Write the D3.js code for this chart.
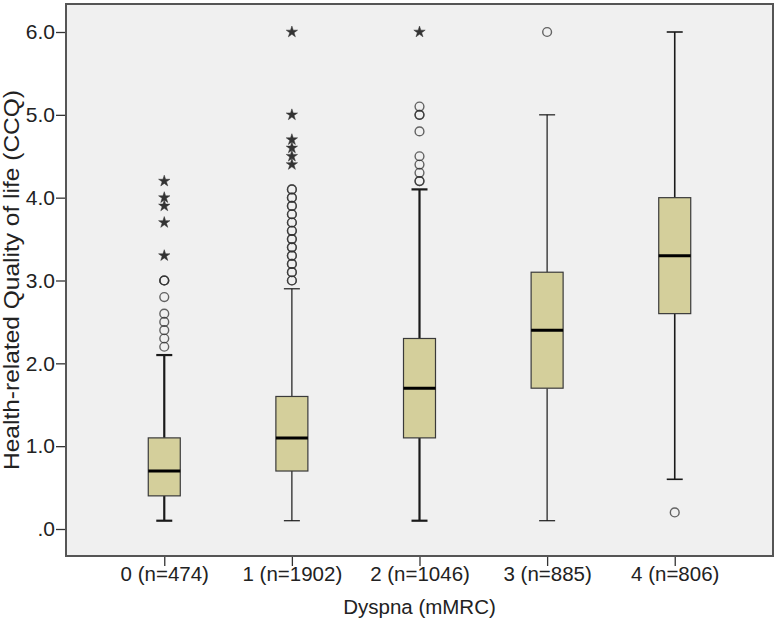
<!DOCTYPE html>
<html>
<head>
<meta charset="utf-8">
<script src="https://cdn.jsdelivr.net/npm/d3@7"></script>
<style>
  html, body { margin: 0; padding: 0; background: #ffffff; }
  svg { display: block; font-family: "Liberation Sans", Arial, Helvetica, sans-serif; }
</style>
</head>
<body>
<svg id="chart" width="778" height="623"></svg>
<script>
// ---- data ----
const categories = ["0 (n=474)", "1 (n=1902)", "2 (n=1046)", "3 (n=885)", "4 (n=806)"];
const whiskerLow  = [0.1, 0.1, 0.1, 0.1, 0.6];
const q1          = [0.4, 0.7, 1.1, 1.7, 2.6];
const median      = [0.7, 1.1, 1.7, 2.4, 3.3];
const q3          = [1.1, 1.6, 2.3, 3.1, 4.0];
const whiskerHigh = [2.1, 2.9, 4.1, 5.0, 6.0];
// mild outliers (circles); repeated values = overlapping cases
const outliersMild = [
  [2.2, 2.3, 2.4, 2.5, 2.6, 2.8, 3.0, 3.0, 3.0],
  [3.0, 3.0, 3.1, 3.1, 3.2, 3.2, 3.3, 3.3, 3.4, 3.4, 3.5, 3.5, 3.6, 3.6, 3.7, 3.7, 3.8, 3.8, 3.9, 3.9, 4.0, 4.0, 4.1, 4.1],
  [4.2, 4.2, 4.3, 4.4, 4.5, 4.8, 5.0, 5.0, 5.1],
  [6.0],
  [0.2]
];
// extreme outliers (stars)
const outliersExtreme = [
  [3.3, 3.7, 3.9, 4.0, 4.2],
  [4.4, 4.5, 4.6, 4.7, 5.0, 6.0],
  [6.0],
  [],
  []
];
const yTicks = [0, 1, 2, 3, 4, 5, 6];
const yTitle = "Health-related Quality of life (CCQ)";
const xTitle = "Dyspna (mMRC)";

// ---- style ----
const whiskerWidth = [2.2, 1.2, 2.2, 1.2, 1.6];
const FONT = "Liberation Sans, Arial, sans-serif";

const svg = d3.select("#chart");
const frame = { left: 66, right: 773, top: 4, bottom: 556 };

const y = d3.scaleLinear().domain([0, 6]).range([529, 32]);
const x = d3.scalePoint().domain(categories).range([frame.left, frame.right]).padding(0.77);

// plot frame
svg.append("rect")
  .attr("x", frame.left).attr("y", frame.top)
  .attr("width", frame.right - frame.left).attr("height", frame.bottom - frame.top)
  .attr("fill", "#f0f0f0").attr("stroke", "#555").attr("stroke-width", 2);

// axes
const yAxis = d3.axisLeft(y).tickValues(yTicks).tickSize(9).tickSizeOuter(0)
  .tickFormat(d => d === 0 ? ".0" : d3.format(".1f")(d));
const gy = svg.append("g").attr("transform", `translate(${frame.left - 1},0)`).call(yAxis);
gy.select(".domain").remove();
gy.selectAll(".tick line").attr("stroke", "#333").attr("stroke-width", 1.3);
gy.selectAll(".tick text").attr("font-size", 21).attr("fill", "#222").attr("font-family", FONT).attr("x", -10);

const xAxis = d3.axisBottom(x).tickSize(9).tickSizeOuter(0);
const gx = svg.append("g").attr("transform", `translate(0,${frame.bottom + 1})`).call(xAxis);
gx.select(".domain").remove();
gx.selectAll(".tick line").attr("stroke", "#333").attr("stroke-width", 1.3);
gx.selectAll(".tick text").attr("font-size", 20.5).attr("fill", "#222").attr("font-family", FONT).attr("y", 9);

// titles
svg.append("text")
  .attr("transform", `translate(19,${(frame.top + frame.bottom) / 2}) rotate(-90)`)
  .attr("text-anchor", "middle").attr("font-size", 22).attr("fill", "#222")
  .attr("textLength", 380).attr("lengthAdjust", "spacingAndGlyphs")
  .text(yTitle);
svg.append("text")
  .attr("x", (frame.left + frame.right) / 2).attr("y", 614)
  .attr("text-anchor", "middle").attr("font-size", 20.5).attr("fill", "#222")
  .text(xTitle);

// boxes
const boxW = 32, capW = 16;
const groups = categories.map((c, i) => ({
  c, i, lo: whiskerLow[i], q1: q1[i], med: median[i], q3: q3[i], hi: whiskerHigh[i],
  mild: outliersMild[i], ext: outliersExtreme[i]
}));

const g = svg.append("g");
const bg = g.selectAll("g.box").data(groups).join("g").attr("class", "box")
  .attr("transform", d => `translate(${x(d.c)},0)`);

// whiskers
bg.append("line").attr("x1", 0).attr("x2", 0)
  .attr("y1", d => y(d.q3)).attr("y2", d => y(d.hi))
  .attr("stroke", "#1a1a1a").attr("stroke-width", d => whiskerWidth[d.i]);
bg.append("line").attr("x1", 0).attr("x2", 0)
  .attr("y1", d => y(d.q1)).attr("y2", d => y(d.lo))
  .attr("stroke", "#1a1a1a").attr("stroke-width", d => whiskerWidth[d.i]);
bg.append("line").attr("x1", -capW / 2).attr("x2", capW / 2)
  .attr("y1", d => y(d.hi)).attr("y2", d => y(d.hi))
  .attr("stroke", "#1a1a1a").attr("stroke-width", d => whiskerWidth[d.i]);
bg.append("line").attr("x1", -capW / 2).attr("x2", capW / 2)
  .attr("y1", d => y(d.lo)).attr("y2", d => y(d.lo))
  .attr("stroke", "#1a1a1a").attr("stroke-width", d => whiskerWidth[d.i]);

// box
bg.append("rect").attr("x", -boxW / 2).attr("width", boxW)
  .attr("y", d => y(d.q3)).attr("height", d => y(d.q1) - y(d.q3))
  .attr("fill", "#d4cf9b").attr("stroke", "#3a3a3a").attr("stroke-width", 1.2);
// median
bg.append("line").attr("x1", -boxW / 2).attr("x2", boxW / 2)
  .attr("y1", d => y(d.med)).attr("y2", d => y(d.med))
  .attr("stroke", "#000").attr("stroke-width", 3);

// mild outliers
bg.selectAll("circle.mild").data(d => d.mild).join("circle").attr("class", "mild")
  .attr("cx", 0).attr("cy", v => y(v)).attr("r", 4.4)
  .attr("fill", "none").attr("stroke", "#333").attr("stroke-opacity", 0.75).attr("stroke-width", 1.4);

// extreme outliers
const star = d3.symbol().type(d3.symbolStar).size(40);
bg.selectAll("path.ext").data(d => d.ext).join("path").attr("class", "ext")
  .attr("transform", v => `translate(0,${y(v)})`)
  .attr("d", star)
  .attr("fill", "#333").attr("stroke", "#333").attr("stroke-width", 0.5);
</script>
</body>
</html>
